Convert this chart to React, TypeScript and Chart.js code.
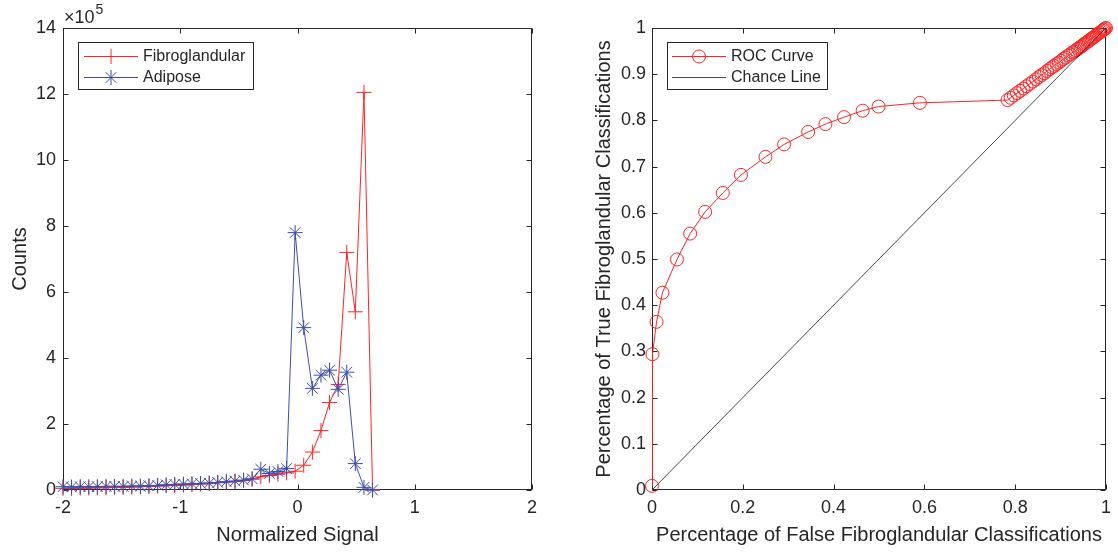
import React, { useEffect, useRef } from 'react';
import { Chart, registerables } from 'chart.js';

Chart.register(...registerables);

// ---------- Data: histogram (left) ----------
const signalBins = [
  -2.0, -1.927, -1.853, -1.78, -1.707, -1.633, -1.56, -1.487, -1.413, -1.34,
  -1.267, -1.193, -1.12, -1.047, -0.973, -0.9, -0.827, -0.753, -0.68, -0.607,
  -0.533, -0.46, -0.387, -0.313, -0.24, -0.167, -0.093, -0.02, 0.053, 0.127,
  0.2, 0.273, 0.347, 0.42, 0.493, 0.567, 0.64,
];
const fibroglandularCounts = [
  5000, 5000, 6000, 6000, 7000, 7000, 8000, 8000, 9000, 10000,
  11000, 12000, 13000, 14000, 15000, 17000, 18000, 20000, 22000, 24000,
  26000, 29000, 33000, 40000, 44000, 48000, 52000, 57000, 75000, 115000,
  180000, 265000, 320000, 720000, 540000, 1205000, 0,
];
const adiposeCounts = [
  10000, 9000, 10000, 10000, 10000, 11000, 11000, 11000, 12000, 12000,
  13000, 14000, 16000, 17000, 18000, 19000, 20000, 21000, 23000, 25000,
  27000, 30000, 34000, 63000, 50000, 56000, 65000, 780000, 492000, 308000,
  348000, 363000, 305000, 357000, 80000, 8000, 0,
];
const signalTicks = [-2, -1, 0, 1, 2];
const countTicks = [0, 200000, 400000, 600000, 800000, 1000000, 1200000, 1400000];
const countExponent = 5;

// ---------- Data: ROC (right) ----------
const rocFalseRate = [
  0.0, 0.001, 0.010, 0.023, 0.055, 0.084, 0.117, 0.156, 0.196, 0.250,
  0.291, 0.344, 0.382, 0.423, 0.464, 0.499, 0.590, 0.783, 0.790, 0.797,
  0.804, 0.811, 0.818, 0.825, 0.832, 0.839, 0.846, 0.852, 0.858, 0.864,
  0.870, 0.876, 0.881, 0.886, 0.891, 0.896, 0.901, 0.906, 0.911, 0.916,
  0.921, 0.926, 0.930, 0.934, 0.938, 0.941, 0.944, 0.947, 0.950, 0.953,
  0.956, 0.959, 0.962, 0.965, 0.968, 0.971, 0.974, 0.977, 0.980, 0.983,
  0.986, 0.989, 0.992, 0.994, 0.996, 0.998, 1.0,
];
const rocTrueRate = [
  0.009, 0.294, 0.364, 0.427, 0.499, 0.555, 0.602, 0.643, 0.682, 0.721,
  0.748, 0.775, 0.792, 0.807, 0.821, 0.830, 0.838, 0.844, 0.849, 0.854,
  0.859, 0.864, 0.869, 0.874, 0.879, 0.884, 0.889, 0.894, 0.898, 0.902,
  0.907, 0.911, 0.915, 0.918, 0.922, 0.925, 0.929, 0.933, 0.936, 0.940,
  0.943, 0.947, 0.949, 0.952, 0.955, 0.957, 0.959, 0.961, 0.964, 0.966,
  0.968, 0.970, 0.972, 0.975, 0.977, 0.979, 0.981, 0.983, 0.986, 0.988,
  0.990, 0.992, 0.994, 0.996, 0.997, 0.999, 1.0,
];
const chanceFalseRate = [0, 1];
const chanceTrueRate = [0, 1];
const rateTicks10 = [0, 0.1, 0.2, 0.3, 0.4, 0.5, 0.6, 0.7, 0.8, 0.9, 1];
const rateTicks5 = [0, 0.2, 0.4, 0.6, 0.8, 1];

// ---------- Styles ----------
const FONT = "'Liberation Sans', Arial, Helvetica, sans-serif";
const AXIS_COLOR = '#262626';
const RED = '#ff2424';
const BLUE = '#3a4db3';
const TICK_FONT = { family: FONT, size: 18 };
const TITLE_FONT = { family: FONT, size: 20 };
const LEGEND_FONT_SIZE = 16;

const matlabAxesPlugin = {
  id: 'matlabAxes',
  beforeDatasetsDraw(chart: any) {
    const { ctx, chartArea: a, scales } = chart;
    const L = 5;
    ctx.save();
    ctx.strokeStyle = AXIS_COLOR;
    ctx.lineWidth = 1;
    const l = Math.round(a.left) + 0.5;
    const t = Math.round(a.top) + 0.5;
    const r = Math.round(a.right) - 0.5;
    const b = Math.round(a.bottom) - 0.5;
    ctx.strokeRect(l, t, r - l, b - t);
    ctx.beginPath();
    scales.x.ticks.forEach((tk: any) => {
      const px = Math.round(scales.x.getPixelForValue(tk.value)) + 0.5;
      ctx.moveTo(px, b);
      ctx.lineTo(px, b - L);
      ctx.moveTo(px, t);
      ctx.lineTo(px, t + L);
    });
    scales.y.ticks.forEach((tk: any) => {
      const py = Math.round(scales.y.getPixelForValue(tk.value)) + 0.5;
      ctx.moveTo(l, py);
      ctx.lineTo(l + L, py);
      ctx.moveTo(r, py);
      ctx.lineTo(r - L, py);
    });
    ctx.stroke();
    ctx.restore();
  },
};

function drawMarker(ctx: CanvasRenderingContext2D, style: string, x: number, y: number, r: number) {
  ctx.beginPath();
  if (style === 'circle') {
    ctx.arc(x, y, r, 0, Math.PI * 2);
  } else {
    ctx.moveTo(x - r, y);
    ctx.lineTo(x + r, y);
    ctx.moveTo(x, y - r);
    ctx.lineTo(x, y + r);
    if (style === 'star') {
      const d = r * Math.SQRT1_2;
      ctx.moveTo(x - d, y - d);
      ctx.lineTo(x + d, y + d);
      ctx.moveTo(x - d, y + d);
      ctx.lineTo(x + d, y - d);
    }
  }
  ctx.stroke();
}

const matlabLegendPlugin = {
  id: 'matlabLegend',
  afterDatasetsDraw(chart: any, _args: any, opts: any) {
    if (!opts || !opts.box) return;
    const { ctx } = chart;
    const { x, y, w, h, lineX0, lineX1, textX, rows } = opts.box;
    ctx.save();
    ctx.fillStyle = '#ffffff';
    ctx.fillRect(x, y, w, h);
    ctx.strokeStyle = AXIS_COLOR;
    ctx.lineWidth = 1;
    ctx.strokeRect(x + 0.5, y + 0.5, w, h);
    chart.data.datasets.forEach((ds: any, i: number) => {
      const ry = rows[i];
      ctx.strokeStyle = ds.borderColor;
      ctx.lineWidth = ds.borderWidth;
      ctx.beginPath();
      ctx.moveTo(lineX0, ry + 0.5);
      ctx.lineTo(lineX1, ry + 0.5);
      ctx.stroke();
      if (ds.pointRadius > 0) {
        drawMarker(ctx, ds.pointStyle, (lineX0 + lineX1) / 2, ry + 0.5, ds.pointRadius);
      }
      ctx.fillStyle = AXIS_COLOR;
      ctx.font = `${LEGEND_FONT_SIZE}px ${FONT}`;
      ctx.textBaseline = 'middle';
      ctx.textAlign = 'left';
      ctx.fillText(ds.label, textX, ry + 1);
    });
    ctx.restore();
  },
};

const exponentPlugin = {
  id: 'exponentLabel',
  afterDraw(chart: any, _args: any, opts: any) {
    if (!opts || opts.exponent == null) return;
    const { ctx, chartArea: a } = chart;
    ctx.save();
    ctx.fillStyle = AXIS_COLOR;
    ctx.textAlign = 'left';
    ctx.textBaseline = 'alphabetic';
    ctx.font = `18px ${FONT}`;
    const base = '\u00d710';
    const bx = a.left + 1;
    const by = a.top - 5;
    ctx.fillText(base, bx, by);
    const bw = ctx.measureText(base).width;
    ctx.font = `14px ${FONT}`;
    ctx.fillText(String(opts.exponent), bx + bw + 1, by - 9);
    ctx.restore();
  },
};

function fmt(v: number) {
  return String(Math.round(v * 10) / 10);
}

function makeAxis(
  kind: 'x' | 'y',
  min: number,
  max: number,
  tickValues: number[],
  title: string,
  size: number,
  tickPad: number,
  titlePad: any,
  label: (v: number) => string,
) {
  return {
    type: 'linear',
    min,
    max,
    afterFit(s: any) {
      if (kind === 'x') s.height = size;
      else s.width = size;
    },
    afterBuildTicks(s: any) {
      s.ticks = tickValues.map((v) => ({ value: v }));
    },
    grid: { display: false, drawTicks: false },
    border: { display: false },
    ticks: {
      autoSkip: false,
      maxRotation: 0,
      padding: tickPad,
      color: AXIS_COLOR,
      font: TICK_FONT,
      callback: (v: any) => label(Number(v)),
    },
    title: {
      display: true,
      text: title,
      color: AXIS_COLOR,
      font: TITLE_FONT,
      padding: titlePad,
    },
  };
}

function HistogramChart() {
  const ref = useRef<HTMLCanvasElement | null>(null);
  useEffect(() => {
    if (!ref.current) return;
    const chart = new Chart(ref.current, {
      type: 'line',
      data: {
        datasets: [
          {
            label: 'Fibroglandular',
            data: signalBins.map((x, i) => ({ x, y: fibroglandularCounts[i] })),
            borderColor: RED,
            backgroundColor: RED,
            borderWidth: 1,
            pointStyle: 'cross',
            pointRadius: 7.5,
            pointBorderWidth: 1,
            pointBorderColor: RED,
            tension: 0,
            clip: false,
            order: 1,
          },
          {
            label: 'Adipose',
            data: signalBins.map((x, i) => ({ x, y: adiposeCounts[i] })),
            borderColor: BLUE,
            backgroundColor: BLUE,
            borderWidth: 1,
            pointStyle: 'star',
            pointRadius: 7.5,
            pointBorderWidth: 1,
            pointBorderColor: BLUE,
            tension: 0,
            clip: false,
            order: 0,
          },
        ],
      } as any,
      options: {
        responsive: false,
        animation: false,
        devicePixelRatio: 1,
        events: [],
        layout: { padding: { left: 0, top: 28, right: 28, bottom: 0 } },
        plugins: {
          legend: { display: false },
          tooltip: { enabled: false },
          matlabLegend: {
            box: { x: 78, y: 42, w: 175, h: 47, lineX0: 84, lineX1: 138, textX: 143, rows: [56, 77] },
          },
          exponentLabel: { exponent: countExponent },
        } as any,
        scales: {
          x: makeAxis('x', -2, 2, signalTicks, 'Normalized Signal', 62, 7, { top: 0, bottom: 5 }, (v) => String(v)) as any,
          y: makeAxis('y', 0, 1400000, countTicks, 'Counts', 63, 7, { top: 8, bottom: 0 }, (v) =>
            String(Math.round(v / Math.pow(10, countExponent))),
          ) as any,
        },
      },
      plugins: [matlabAxesPlugin, matlabLegendPlugin, exponentPlugin],
    });
    return () => chart.destroy();
  }, []);
  return (
    <canvas
      ref={ref}
      width={560}
      height={552}
      style={{ position: 'absolute', left: 0, top: 0, width: 560, height: 552 }}
    />
  );
}

function RocChart() {
  const ref = useRef<HTMLCanvasElement | null>(null);
  useEffect(() => {
    if (!ref.current) return;
    const chart = new Chart(ref.current, {
      type: 'line',
      data: {
        datasets: [
          {
            label: 'ROC Curve',
            data: rocFalseRate.map((x, i) => ({ x, y: rocTrueRate[i] })),
            borderColor: RED,
            backgroundColor: 'rgba(0,0,0,0)',
            borderWidth: 1,
            pointStyle: 'circle',
            pointRadius: 6.5,
            pointBorderWidth: 1,
            pointBorderColor: RED,
            pointBackgroundColor: 'rgba(0,0,0,0)',
            tension: 0,
            clip: false,
            order: 1,
          },
          {
            label: 'Chance Line',
            data: chanceFalseRate.map((x, i) => ({ x, y: chanceTrueRate[i] })),
            borderColor: '#1a1a1a',
            backgroundColor: '#1a1a1a',
            borderWidth: 0.8,
            pointRadius: 0,
            tension: 0,
            clip: false,
            order: 0,
          },
        ],
      } as any,
      options: {
        responsive: false,
        animation: false,
        devicePixelRatio: 1,
        events: [],
        layout: { padding: { left: 0, top: 28, right: 5, bottom: 0 } },
        plugins: {
          legend: { display: false },
          tooltip: { enabled: false },
          matlabLegend: {
            box: { x: 107, y: 42, w: 160, h: 47, lineX0: 112, lineX1: 166, textX: 171, rows: [56, 77] },
          },
        } as any,
        scales: {
          x: makeAxis(
            'x', 0, 1, rateTicks5, 'Percentage of False Fibroglandular Classifications', 62, 7,
            { top: 0, bottom: 5 }, fmt,
          ) as any,
          y: makeAxis(
            'y', 0, 1, rateTicks10, 'Percentage of True Fibroglandular Classifications', 92, 6,
            { top: 32, bottom: 0 }, fmt,
          ) as any,
        },
      },
      plugins: [matlabAxesPlugin, matlabLegendPlugin],
    });
    return () => chart.destroy();
  }, []);
  return (
    <canvas
      ref={ref}
      width={558}
      height={552}
      style={{ position: 'absolute', left: 560, top: 0, width: 558, height: 552 }}
    />
  );
}

export default function App() {
  return (
    <div
      style={{
        position: 'absolute',
        left: 0,
        top: 0,
        width: 1118,
        height: 552,
        background: '#ffffff',
        overflow: 'hidden',
      }}
    >
      <HistogramChart />
      <RocChart />
    </div>
  );
}
